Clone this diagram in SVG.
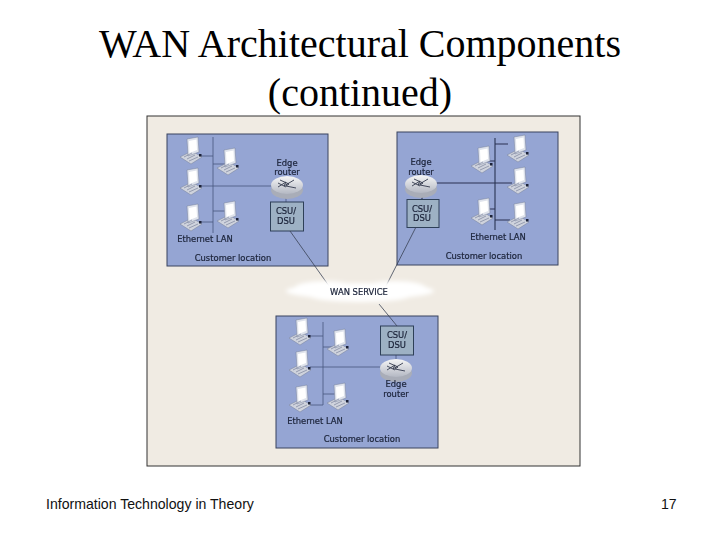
<svg xmlns="http://www.w3.org/2000/svg" width="720" height="540" viewBox="0 0 720 540">
<style>
.title{font:40px "Liberation Serif",serif;fill:#000;text-anchor:middle}
.foot{font:14.1px "Liberation Sans",Arial,sans-serif;fill:#111}
.lbl{font:8.4px "DejaVu Sans","Liberation Sans",sans-serif;fill:#1a2238;text-anchor:middle;stroke:#1a2238;stroke-width:.2}
.panel{fill:#95a5d3;stroke:#39435f;stroke-width:1}
.net{fill:none;stroke:#48557f;stroke-width:.8}
.csu{fill:#9db1c4;stroke:#2f3f58;stroke-width:1}
.link{fill:none;stroke:#3a4256;stroke-width:.8}
</style>
<defs>
<filter id="soft" x="-5%" y="-5%" width="110%" height="110%"><feGaussianBlur stdDeviation="0.35"/></filter>
<filter id="cl" x="-10%" y="-50%" width="120%" height="200%"><feGaussianBlur stdDeviation="2.2"/></filter>
<linearGradient id="rt" x1="0" y1="0" x2="0" y2="1"><stop offset="0" stop-color="#f6f6f6"/><stop offset="1" stop-color="#b4b8c3"/></linearGradient>
<g id="pc">
<path d="M0 20 L12 14 L22 20 L11 27 Z" fill="#cfd3dd" stroke="#77809a" stroke-width=".5"/>
<path d="M7 2 L18 0 L19 15 L8 19 Z" fill="#dfe3ec" stroke="#77809a" stroke-width=".5"/>
<path d="M9 4 L16.500 2.500 L17 13 L9.500 16 Z" fill="#fff"/>
<path d="M4 20 L12 16 M7 22 L15 18 M9 24 L18 20" stroke="#6d7690" stroke-width=".6" fill="none"/>
<rect x="19" y="17" width="2.500" height="2.500" fill="#1c2238"/>
</g>
<g id="router">
<ellipse cx="15" cy="15" rx="16" ry="9" fill="#a9adb8"/>
<ellipse cx="15" cy="10" rx="16" ry="9" fill="url(#rt)"/>
<path d="M6 12 L14 7 L12 11 L22 5 M8 5 L17 9 L14 11 L24 13 M6 8 L14 12" fill="none" stroke="#333a4d" stroke-width=".9"/>
</g>
</defs>
<rect width="720" height="540" fill="#fff"/>
<text class="title" x="360" y="57">WAN Architectural Components</text>
<text class="title" x="360" y="106">(continued)</text>
<g id="figure" filter="url(#soft)">
<rect x="147" y="116" width="433" height="350" fill="#f0ebe3" stroke="#333" stroke-width="1"/>
<g id="lan-left">
<rect class="panel" x="167" y="134" width="161" height="132"/>
<path class="net" d="M213 137V233M200 156H213M213 164H226M200 186H272M213 211H226M200 222H213M286 194V202"/>
<use href="#pc" x="180" y="137"/><use href="#pc" x="217" y="148"/><use href="#pc" x="180" y="168"/><use href="#pc" x="180" y="204"/><use href="#pc" x="217" y="201"/>
<use href="#router" x="272" y="175"/>
<rect class="csu" x="270.500" y="202" width="33" height="29"/>
<text class="lbl" x="287" y="166">Edge</text><text class="lbl" x="287" y="175">router</text>
<text class="lbl" x="286" y="214">CSU/</text><text class="lbl" x="286" y="224">DSU</text>
<text class="lbl" x="205" y="242">Ethernet LAN</text>
<text class="lbl" x="233" y="261">Customer location</text>
</g>
<g id="lan-right">
<rect class="panel" x="397" y="132" width="161" height="133"/>
<path class="net" style="stroke-width:1.100;stroke:#2a3352" d="M495 138V230M486 161H495M495 144H508M436 183H512M486 209H495M495 220H510M422 194V199"/>
<use href="#pc" x="471" y="146"/><use href="#pc" x="507" y="135"/><use href="#pc" x="507" y="167"/><use href="#pc" x="471" y="198"/><use href="#pc" x="507" y="202"/>
<use href="#router" x="406" y="174"/>
<rect class="csu" x="407" y="199.500" width="32" height="28"/>
<text class="lbl" x="421" y="165">Edge</text><text class="lbl" x="421" y="175">router</text>
<text class="lbl" x="422" y="212">CSU/</text><text class="lbl" x="422" y="221">DSU</text>
<text class="lbl" x="498" y="240">Ethernet LAN</text>
<text class="lbl" x="484" y="259">Customer location</text>
</g>
<g id="lan-bottom">
<rect class="panel" x="276" y="316" width="162" height="132"/>
<path class="net" d="M323 322V405M310 336H323M323 347H336M310 367H383M323 394H336M310 405H323M396 354V362"/>
<use href="#pc" x="289" y="318"/><use href="#pc" x="327" y="329"/><use href="#pc" x="289" y="350"/><use href="#pc" x="289" y="385"/><use href="#pc" x="327" y="383"/>
<use href="#router" x="381" y="358"/>
<rect class="csu" x="380.500" y="326" width="33" height="29"/>
<text class="lbl" x="397" y="338">CSU/</text><text class="lbl" x="397" y="348">DSU</text>
<text class="lbl" x="396" y="387">Edge</text><text class="lbl" x="396" y="397">router</text>
<text class="lbl" x="315" y="424">Ethernet LAN</text>
<text class="lbl" x="362" y="442">Customer location</text>
</g>
<g id="connectors">
<path class="link" d="M290 231 L329 286"/>
<path class="link" d="M416 227 L386 286"/>
<path class="link" d="M379 304 L397 326"/>
</g>
<g id="wan-service">
<g fill="#fff" filter="url(#cl)">
<ellipse cx="360" cy="291" rx="74" ry="8"/><ellipse cx="325" cy="288" rx="30" ry="7"/><ellipse cx="395" cy="289" rx="32" ry="8"/><ellipse cx="360" cy="296" rx="50" ry="6"/>
</g>
<text class="lbl" x="359" y="295">WAN SERVICE</text>
</g>
</g>
<text class="foot" x="46" y="509">Information Technology in Theory</text>
<text class="foot" x="661" y="509">17</text>
</svg>
